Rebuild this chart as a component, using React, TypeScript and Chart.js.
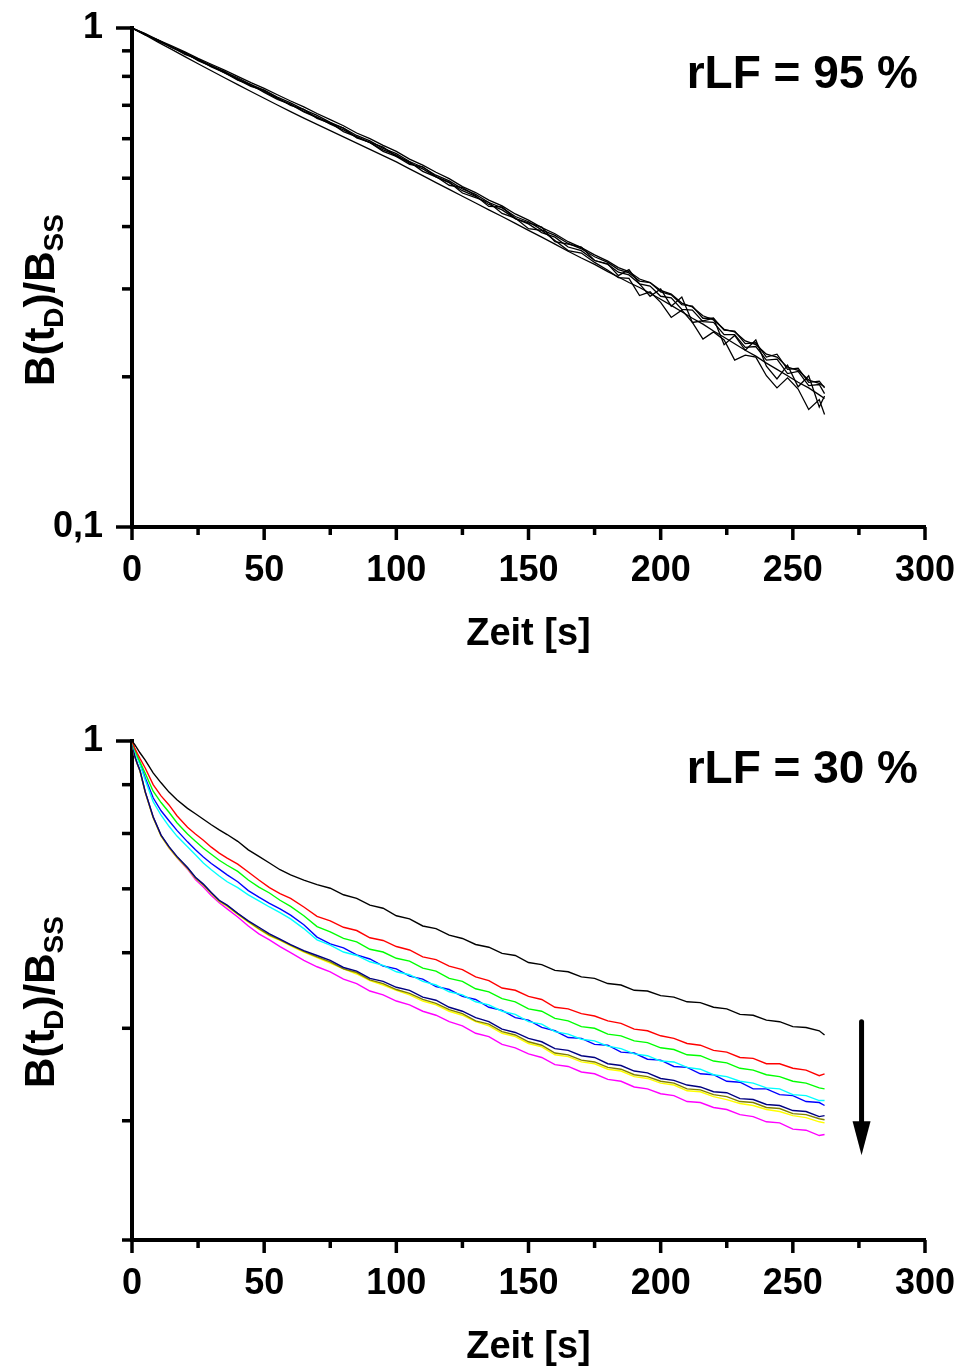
import React, { useEffect, useRef } from "react";
import { Chart, registerables } from "chart.js";

Chart.register(...registerables);

const FONT = '"Liberation Sans", Arial, Helvetica, sans-serif';

// ---------- axes ----------
const xMajorTicks = [0, 50, 100, 150, 200, 250, 300];
const xMinorTicks = [25, 75, 125, 175, 225, 275];
const xTickLabels = ["0", "50", "100", "150", "200", "250", "300"];
const xTitle = "Zeit [s]";

const topYMajor = [0.1, 1];
const topYLabels = ["0,1", "1"];
const topYMinor = [0.2, 0.3, 0.4, 0.5, 0.6, 0.7, 0.8, 0.9];
const bottomYMajor = [1];
const bottomYLabels = ["1"];
const bottomYMinor = [0.3, 0.4, 0.5, 0.6, 0.7, 0.8, 0.9];

const yTitleParts: [string, boolean][] = [
  ["B(t", false],
  ["D", true],
  [")/B", false],
  ["SS", true],
];
const topPanelLabel = "rLF = 95 %";
const bottomPanelLabel = "rLF = 30 %";

// arrow (data coordinates, bottom panel)
const arrowX = 276;
const arrowYFrom = 0.508;
const arrowYTo = 0.368;

// ---------- top panel data (rLF = 95 %) ----------
const topTime = [
  0, 5, 10, 15, 20, 25, 30, 35, 40, 45, 50, 55, 60, 65, 70, 75, 80, 85, 90, 95,
  100, 105, 110, 115, 120, 125, 130, 135, 140, 145, 150, 155, 160, 165, 170, 175,
  180, 184, 188, 192, 196, 200, 204, 208, 212, 216, 220, 224, 228, 232, 236, 240,
  244, 248, 252, 256, 260, 262,
];
const topRun1 = [
  1.0, 0.974, 0.946, 0.921, 0.896, 0.869, 0.846, 0.823, 0.8, 0.777, 0.757, 0.735,
  0.714, 0.695, 0.674, 0.655, 0.637, 0.616, 0.6, 0.582, 0.566, 0.546, 0.531, 0.514,
  0.499, 0.481, 0.468, 0.452, 0.44, 0.424, 0.412, 0.398, 0.387, 0.373, 0.363, 0.351,
  0.341, 0.331, 0.325, 0.314, 0.309, 0.298, 0.293, 0.281, 0.276, 0.265, 0.26, 0.249,
  0.246, 0.236, 0.232, 0.222, 0.219, 0.209, 0.206, 0.197, 0.194, 0.191,
];
const topRun2 = [
  1.0, 0.97, 0.945, 0.916, 0.892, 0.864, 0.842, 0.817, 0.795, 0.77, 0.751, 0.727,
  0.708, 0.686, 0.668, 0.647, 0.63, 0.609, 0.594, 0.574, 0.56, 0.54, 0.526, 0.507,
  0.494, 0.476, 0.464, 0.447, 0.436, 0.419, 0.409, 0.394, 0.384, 0.37, 0.361, 0.348,
  0.339, 0.328, 0.323, 0.311, 0.309, 0.296, 0.292, 0.279, 0.277, 0.262, 0.262, 0.248,
  0.247, 0.233, 0.234, 0.219, 0.222, 0.207, 0.208, 0.195, 0.196, 0.19,
];
const topRun3 = [
  1.0, 0.971, 0.944, 0.914, 0.889, 0.862, 0.839, 0.813, 0.791, 0.766, 0.746, 0.722,
  0.703, 0.681, 0.663, 0.642, 0.625, 0.605, 0.589, 0.57, 0.556, 0.536, 0.522, 0.503,
  0.49, 0.472, 0.46, 0.443, 0.432, 0.415, 0.405, 0.389, 0.381, 0.364, 0.358, 0.342,
  0.336, 0.324, 0.32, 0.307, 0.304, 0.29, 0.288, 0.273, 0.272, 0.258, 0.257, 0.243,
  0.243, 0.229, 0.23, 0.216, 0.217, 0.203, 0.205, 0.192, 0.193, 0.185,
];
const topRun4 = [
  1.0, 0.968, 0.936, 0.906, 0.876, 0.848, 0.821, 0.795, 0.77, 0.746, 0.723, 0.701,
  0.68, 0.66, 0.641, 0.623, 0.605, 0.588, 0.571, 0.555, 0.539, 0.522, 0.506, 0.49,
  0.475, 0.46, 0.446, 0.432, 0.419, 0.406, 0.393, 0.381, 0.369, 0.357, 0.346, 0.336,
  0.325, 0.317, 0.309, 0.302, 0.294, 0.286, 0.278, 0.27, 0.262, 0.255, 0.247, 0.24,
  0.233, 0.226, 0.22, 0.213, 0.207, 0.201, 0.195, 0.19, 0.184, 0.181,
];
const topRun5 = [
  1.0, 0.973, 0.94, 0.916, 0.885, 0.866, 0.836, 0.814, 0.786, 0.77, 0.743, 0.719,
  0.703, 0.679, 0.661, 0.646, 0.62, 0.605, 0.59, 0.566, 0.553, 0.539, 0.516, 0.503,
  0.491, 0.467, 0.457, 0.447, 0.425, 0.416, 0.396, 0.393, 0.375, 0.358, 0.354, 0.339,
  0.327, 0.316, 0.315, 0.291, 0.296, 0.282, 0.263, 0.272, 0.257, 0.238, 0.246, 0.237,
  0.216, 0.221, 0.219, 0.201, 0.19, 0.199, 0.189, 0.172, 0.18, 0.168,
];
const topRun6 = [
  1.0, 0.969, 0.946, 0.914, 0.893, 0.86, 0.838, 0.819, 0.788, 0.764, 0.75, 0.724,
  0.7, 0.687, 0.659, 0.644, 0.63, 0.602, 0.59, 0.577, 0.553, 0.533, 0.527, 0.504,
  0.484, 0.479, 0.461, 0.439, 0.438, 0.415, 0.407, 0.399, 0.373, 0.369, 0.364, 0.342,
  0.337, 0.319, 0.328, 0.307, 0.29, 0.3, 0.277, 0.289, 0.257, 0.259, 0.262, 0.232,
  0.242, 0.226, 0.237, 0.21, 0.198, 0.211, 0.191, 0.201, 0.174, 0.183,
];

// ---------- bottom panel data (rLF = 30 %) ----------
const bottomTime = [
  0, 1, 2, 3, 5, 8, 11, 14, 17, 21, 24, 27, 30, 33, 36, 40, 44, 48, 52, 56, 60, 65,
  70, 75, 80, 85, 90, 95, 100, 105, 110, 115, 120, 125, 130, 135, 140, 145, 150,
  155, 160, 165, 170, 175, 180, 185, 190, 195, 200, 205, 210, 215, 220, 225, 230,
  235, 240, 245, 250, 255, 260, 262,
];
const bottomBlack = [
  1.0, 0.992, 0.982, 0.972, 0.955, 0.926, 0.904, 0.884, 0.868, 0.85, 0.839, 0.828,
  0.817, 0.807, 0.798, 0.785, 0.769, 0.757, 0.745, 0.733, 0.724, 0.715, 0.707,
  0.701, 0.69, 0.684, 0.673, 0.668, 0.656, 0.651, 0.64, 0.636, 0.626, 0.621, 0.612,
  0.608, 0.599, 0.596, 0.586, 0.583, 0.575, 0.573, 0.566, 0.564, 0.557, 0.555,
  0.548, 0.547, 0.541, 0.539, 0.533, 0.532, 0.526, 0.524, 0.517, 0.516, 0.51,
  0.508, 0.502, 0.501, 0.497, 0.492,
];
const bottomRed = [
  1.0, 0.984, 0.971, 0.959, 0.937, 0.9, 0.876, 0.857, 0.835, 0.812, 0.799, 0.787,
  0.774, 0.763, 0.754, 0.743, 0.729, 0.715, 0.702, 0.692, 0.684, 0.67, 0.655,
  0.648, 0.638, 0.633, 0.622, 0.618, 0.609, 0.604, 0.594, 0.59, 0.581, 0.576,
  0.566, 0.561, 0.551, 0.548, 0.54, 0.536, 0.526, 0.524, 0.518, 0.515, 0.509,
  0.506, 0.499, 0.497, 0.491, 0.488, 0.482, 0.48, 0.474, 0.472, 0.466, 0.465,
  0.459, 0.459, 0.454, 0.452, 0.446, 0.448,
];
const bottomGreen = [
  1.0, 0.981, 0.965, 0.951, 0.925, 0.886, 0.862, 0.842, 0.821, 0.799, 0.785, 0.772,
  0.761, 0.75, 0.741, 0.73, 0.715, 0.703, 0.693, 0.681, 0.671, 0.656, 0.639,
  0.631, 0.621, 0.616, 0.605, 0.601, 0.592, 0.588, 0.578, 0.574, 0.564, 0.56,
  0.55, 0.546, 0.537, 0.533, 0.524, 0.521, 0.512, 0.509, 0.502, 0.5, 0.493, 0.491,
  0.485, 0.483, 0.477, 0.475, 0.469, 0.468, 0.462, 0.46, 0.454, 0.452, 0.447,
  0.445, 0.44, 0.438, 0.433, 0.432,
];
const bottomBlue = [
  1.0, 0.978, 0.962, 0.948, 0.915, 0.872, 0.845, 0.825, 0.806, 0.784, 0.769, 0.756,
  0.744, 0.734, 0.724, 0.712, 0.697, 0.686, 0.676, 0.667, 0.657, 0.642, 0.623,
  0.613, 0.607, 0.597, 0.591, 0.581, 0.577, 0.567, 0.563, 0.553, 0.549, 0.54,
  0.536, 0.526, 0.522, 0.513, 0.51, 0.501, 0.497, 0.489, 0.488, 0.481, 0.48,
  0.472, 0.471, 0.464, 0.463, 0.456, 0.455, 0.448, 0.447, 0.44, 0.439, 0.432,
  0.432, 0.426, 0.425, 0.419, 0.418, 0.415,
];
const bottomCyan = [
  1.0, 0.977, 0.96, 0.945, 0.91, 0.864, 0.836, 0.814, 0.795, 0.775, 0.76, 0.745,
  0.733, 0.722, 0.712, 0.702, 0.69, 0.68, 0.67, 0.661, 0.651, 0.636, 0.619,
  0.611, 0.601, 0.596, 0.587, 0.582, 0.573, 0.569, 0.56, 0.555, 0.546, 0.542,
  0.533, 0.529, 0.521, 0.517, 0.508, 0.505, 0.496, 0.493, 0.487, 0.485, 0.479,
  0.476, 0.47, 0.468, 0.462, 0.461, 0.455, 0.453, 0.447, 0.445, 0.44, 0.438,
  0.433, 0.432, 0.426, 0.425, 0.42, 0.42,
];
const bottomNavy = [
  1.0, 0.965, 0.947, 0.932, 0.885, 0.833, 0.797, 0.775, 0.757, 0.737, 0.72, 0.708,
  0.694, 0.681, 0.673, 0.66, 0.648, 0.638, 0.628, 0.62, 0.612, 0.603, 0.596,
  0.589, 0.579, 0.574, 0.564, 0.56, 0.552, 0.548, 0.539, 0.535, 0.526, 0.521,
  0.513, 0.508, 0.499, 0.495, 0.488, 0.484, 0.476, 0.474, 0.468, 0.466, 0.459,
  0.457, 0.451, 0.449, 0.443, 0.441, 0.436, 0.434, 0.429, 0.428, 0.422, 0.421,
  0.416, 0.415, 0.41, 0.409, 0.404, 0.405,
];
const bottomOlive = [
  1.0, 0.964, 0.946, 0.931, 0.884, 0.832, 0.796, 0.774, 0.756, 0.736, 0.719, 0.707,
  0.693, 0.68, 0.672, 0.659, 0.647, 0.636, 0.626, 0.619, 0.611, 0.602, 0.594,
  0.587, 0.577, 0.572, 0.562, 0.557, 0.549, 0.544, 0.536, 0.531, 0.523, 0.518,
  0.509, 0.505, 0.496, 0.492, 0.484, 0.48, 0.471, 0.469, 0.463, 0.461, 0.455,
  0.453, 0.447, 0.445, 0.44, 0.438, 0.432, 0.431, 0.426, 0.424, 0.419, 0.418,
  0.413, 0.412, 0.407, 0.406, 0.402, 0.401,
];
const bottomYellow = [
  1.0, 0.964, 0.946, 0.93, 0.883, 0.831, 0.795, 0.773, 0.755, 0.735, 0.718, 0.706,
  0.692, 0.679, 0.671, 0.658, 0.646, 0.635, 0.625, 0.618, 0.61, 0.601, 0.593,
  0.585, 0.577, 0.57, 0.561, 0.555, 0.548, 0.542, 0.534, 0.529, 0.521, 0.516,
  0.508, 0.503, 0.494, 0.49, 0.482, 0.478, 0.469, 0.467, 0.461, 0.459, 0.453,
  0.451, 0.445, 0.443, 0.438, 0.436, 0.43, 0.429, 0.424, 0.421, 0.417, 0.415,
  0.411, 0.409, 0.405, 0.403, 0.399, 0.398,
];
const bottomMagenta = [
  1.0, 0.965, 0.946, 0.931, 0.884, 0.832, 0.796, 0.773, 0.755, 0.734, 0.716, 0.703,
  0.689, 0.677, 0.667, 0.654, 0.64, 0.628, 0.619, 0.609, 0.6, 0.589, 0.58,
  0.573, 0.563, 0.557, 0.547, 0.542, 0.534, 0.529, 0.521, 0.516, 0.508, 0.503,
  0.494, 0.49, 0.481, 0.477, 0.47, 0.466, 0.458, 0.456, 0.45, 0.448, 0.442, 0.44,
  0.434, 0.432, 0.427, 0.425, 0.419, 0.418, 0.413, 0.411, 0.406, 0.404, 0.399,
  0.398, 0.392, 0.391, 0.386, 0.387,
];

const topSeries = [topRun1, topRun2, topRun3, topRun4, topRun5, topRun6];
const bottomSeries: [number[], string][] = [
  [bottomBlack, "#000000"],
  [bottomRed, "#ff0000"],
  [bottomGreen, "#00ff00"],
  [bottomCyan, "#00ffff"],
  [bottomBlue, "#0000ff"],
  [bottomNavy, "#000080"],
  [bottomOlive, "#808000"],
  [bottomYellow, "#ffff00"],
  [bottomMagenta, "#ff00ff"],
];

const toPoints = (xs: number[], ys: number[]) => xs.map((x, i) => ({ x, y: ys[i] }));

const decoPlugin = {
  id: "deco",
  afterDraw(chart: any, _args: any, opts: any) {
    const { ctx, chartArea: ca, scales } = chart;
    const xs = scales.x;
    const ys = scales.y;
    ctx.save();
    ctx.strokeStyle = "#000";
    ctx.fillStyle = "#000";
    ctx.lineWidth = 3.5;
    ctx.lineCap = "butt";
    const seg = (x1: number, y1: number, x2: number, y2: number) => {
      ctx.beginPath();
      ctx.moveTo(x1, y1);
      ctx.lineTo(x2, y2);
      ctx.stroke();
    };
    xMajorTicks.forEach((v) => {
      const p = xs.getPixelForValue(v);
      seg(p, ca.bottom, p, ca.bottom + 13);
    });
    xMinorTicks.forEach((v) => {
      const p = xs.getPixelForValue(v);
      seg(p, ca.bottom, p, ca.bottom + 8);
    });
    opts.yMajor.forEach((v: number) => {
      const p = ys.getPixelForValue(v);
      seg(ca.left - 16, p, ca.left, p);
    });
    opts.yMinor.forEach((v: number) => {
      const p = ys.getPixelForValue(v);
      seg(ca.left - 10, p, ca.left, p);
    });

    // y axis title with subscripts
    ctx.save();
    ctx.translate(opts.yTitleX, opts.yTitleY);
    ctx.rotate(-Math.PI / 2);
    const big = `bold 42px ${FONT}`;
    const small = `bold 28px ${FONT}`;
    let total = 0;
    yTitleParts.forEach(([t, sub]) => {
      ctx.font = sub ? small : big;
      total += ctx.measureText(t).width;
    });
    let cx = -total / 2;
    ctx.textAlign = "left";
    ctx.textBaseline = "alphabetic";
    yTitleParts.forEach(([t, sub]) => {
      ctx.font = sub ? small : big;
      ctx.fillText(t, cx, sub ? 9 : 0);
      cx += ctx.measureText(t).width;
    });
    ctx.restore();

    // panel label
    ctx.font = `bold 46px ${FONT}`;
    ctx.textAlign = "right";
    ctx.textBaseline = "alphabetic";
    ctx.fillText(opts.label, ca.right - 7, ca.top + opts.labelDy);

    // arrow
    if (opts.arrow) {
      const ax = xs.getPixelForValue(arrowX);
      const y0 = ys.getPixelForValue(arrowYFrom);
      const y1 = ys.getPixelForValue(arrowYTo);
      ctx.lineWidth = 5;
      ctx.lineCap = "round";
      seg(ax, y0, ax, y1 - 30);
      ctx.beginPath();
      ctx.moveTo(ax - 9, y1 - 34);
      ctx.lineTo(ax + 9, y1 - 34);
      ctx.lineTo(ax, y1);
      ctx.closePath();
      ctx.fill();
    }
    ctx.restore();
  },
};

function makeConfig(isTop: boolean): any {
  const datasets = isTop
    ? topSeries.map((s) => ({
        data: toPoints(topTime, s),
        borderColor: "#000000",
        borderWidth: 1.3,
        pointRadius: 0,
        fill: false,
        tension: 0,
      }))
    : bottomSeries.map(([s, c]) => ({
        data: toPoints(bottomTime, s),
        borderColor: c,
        borderWidth: 1.4,
        pointRadius: 0,
        fill: false,
        tension: 0,
      }));
  const yMajor = isTop ? topYMajor : bottomYMajor;
  const yLabels = isTop ? topYLabels : bottomYLabels;
  return {
    type: "line",
    data: { datasets },
    plugins: [decoPlugin],
    options: {
      responsive: false,
      maintainAspectRatio: false,
      animation: false,
      events: [],
      layout: { padding: { left: 0, top: 28, right: 31, bottom: 0 } },
      plugins: {
        legend: { display: false },
        tooltip: { enabled: false },
        deco: {
          yMajor,
          yMinor: isTop ? topYMinor : bottomYMinor,
          yTitleX: 54,
          yTitleY: isTop ? 300 : 289,
          label: isTop ? topPanelLabel : bottomPanelLabel,
          labelDy: isTop ? 60 : 42,
          arrow: !isTop,
        },
      },
      scales: {
        x: {
          type: "linear",
          min: 0,
          max: 300,
          afterBuildTicks: (s: any) => {
            s.ticks = xMajorTicks.map((v) => ({ value: v }));
          },
          afterFit: (s: any) => {
            s.height = 130;
            s.paddingLeft = 0;
            s.paddingRight = 0;
          },
          grid: { display: false, drawTicks: false },
          border: { display: true, color: "#000", width: 4 },
          ticks: {
            autoSkip: false,
            maxRotation: 0,
            padding: 22,
            color: "#000",
            font: { family: FONT, size: 36, weight: "bold" },
            callback: (_v: any, i: number) => xTickLabels[i],
          },
          title: {
            display: true,
            text: xTitle,
            color: "#000",
            font: { family: FONT, size: 38, weight: "bold" },
            padding: { top: 0, bottom: 0 },
          },
        },
        y: {
          type: "logarithmic",
          min: isTop ? 0.1 : 0.3,
          max: 1,
          afterBuildTicks: (s: any) => {
            s.ticks = yMajor.map((v) => ({ value: v }));
          },
          afterFit: (s: any) => {
            s.width = 132;
            s.paddingTop = 0;
            s.paddingBottom = 0;
          },
          grid: { display: false, drawTicks: false },
          border: { display: true, color: "#000", width: 4 },
          ticks: {
            autoSkip: false,
            padding: 29,
            color: "#000",
            font: { family: FONT, size: 36, weight: "bold" },
            callback: (_v: any, i: number) => yLabels[i],
          },
        },
      },
    },
  };
}

function Panel({ isTop, top }: { isTop: boolean; top: number }) {
  const ref = useRef<HTMLCanvasElement>(null);
  useEffect(() => {
    const chart = new Chart(ref.current as HTMLCanvasElement, makeConfig(isTop));
    return () => chart.destroy();
  }, [isTop]);
  return (
    <canvas
      ref={ref}
      width={956}
      height={657}
      style={{ position: "absolute", left: 0, top, width: 956, height: 657 }}
    />
  );
}

export default function App() {
  return (
    <div
      style={{
        position: "absolute",
        left: 0,
        top: 0,
        width: 956,
        height: 1370,
        background: "#ffffff",
        overflow: "hidden",
      }}
    >
      <Panel isTop={true} top={0} />
      <Panel isTop={false} top={713} />
    </div>
  );
}
